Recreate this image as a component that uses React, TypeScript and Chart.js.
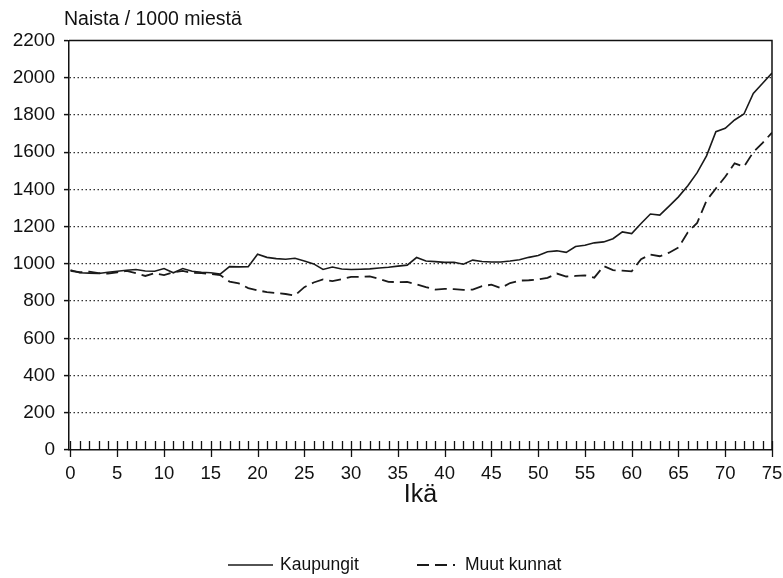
import React, { useEffect, useRef } from "react";
import { Chart, registerables } from "chart.js";

Chart.register(...registerables);

const ages = [
  0, 1, 2, 3, 4, 5, 6, 7, 8, 9, 10, 11, 12, 13, 14, 15, 16, 17, 18, 19,
  20, 21, 22, 23, 24, 25, 26, 27, 28, 29, 30, 31, 32, 33, 34, 35, 36, 37, 38, 39,
  40, 41, 42, 43, 44, 45, 46, 47, 48, 49, 50, 51, 52, 53, 54, 55, 56, 57, 58, 59,
  60, 61, 62, 63, 64, 65, 66, 67, 68, 69, 70, 71, 72, 73, 74, 75,
];

const kaupungit = [
  967, 952, 950, 948, 955, 960, 966, 970, 962, 960, 975, 952, 975, 960, 955, 952, 945, 985, 984, 985,
  1052, 1035, 1028, 1025, 1030, 1015, 1000, 970, 983, 972, 970, 971, 973, 978, 982, 988, 993, 1034, 1015, 1012,
  1008, 1009, 998, 1020, 1013, 1010, 1010, 1015, 1022, 1035, 1045, 1065, 1070, 1062, 1093, 1100, 1113, 1118, 1135, 1172,
  1163, 1217, 1268, 1262, 1310, 1360, 1420, 1490, 1580, 1710, 1728, 1773, 1805, 1916, 1970, 2025,
];

const muutKunnat = [
  962, 955, 958, 950, 948, 955, 962, 950, 935, 950, 940, 955, 962, 952, 950, 945, 940, 905, 895, 870,
  858, 848, 843, 838, 830, 875, 900, 916, 907, 918, 930, 930, 933, 920, 903, 902, 903, 890, 875, 862,
  866, 864, 860, 862, 880, 888, 870, 897, 910, 912, 916, 925, 948, 932, 935, 938, 926, 988, 966, 964,
  960, 1025, 1050, 1041, 1060, 1088, 1170, 1220, 1340, 1405, 1468, 1540, 1522, 1600, 1650, 1705,
];

const xTickValues = [0, 5, 10, 15, 20, 25, 30, 35, 40, 45, 50, 55, 60, 65, 70, 75];
const yTickValues = [0, 200, 400, 600, 800, 1000, 1200, 1400, 1600, 1800, 2000, 2200];

const seriesNames = ["Kaupungit", "Muut kunnat"];
const yTitle = "Naista / 1000 miestä";
const xTitle = "Ikä";

const FONT = '"Liberation Sans", Arial, Helvetica, sans-serif';
const INK = "#111";

const decorPlugin = {
  id: "decor",
  afterDraw(chart: any) {
    const { ctx, chartArea: a, scales } = chart;
    const x = scales.x;
    ctx.save();
    // frame top & right
    ctx.strokeStyle = INK;
    ctx.lineWidth = 1.5;
    ctx.setLineDash([]);
    ctx.beginPath();
    ctx.moveTo(a.left, a.top);
    ctx.lineTo(a.right, a.top);
    ctx.lineTo(a.right, a.bottom);
    ctx.stroke();
    // yearly ticks on x axis
    ctx.lineWidth = 1.3;
    ctx.beginPath();
    for (const age of ages) {
      const px = Math.round(x.getPixelForValue(age)) + 0.5;
      const major = age % 5 === 0;
      ctx.moveTo(px, a.bottom - 9);
      ctx.lineTo(px, a.bottom + (major ? 7 : 0));
    }
    ctx.stroke();
    // top-left title
    ctx.fillStyle = INK;
    ctx.font = `19.5px ${FONT}`;
    ctx.textBaseline = "middle";
    ctx.textAlign = "left";
    ctx.fillText(yTitle, 64, 20);
    // legend
    const ly = chart.height - 13;
    const ds = chart.data.datasets;
    const items = [
      { x0: 228, x1: 273, tx: 280 },
      { x0: 417, x1: 455, tx: 465 },
    ];
    ctx.font = `17.5px ${FONT}`;
    items.forEach((it, i) => {
      ctx.strokeStyle = ds[i].borderColor;
      ctx.lineWidth = ds[i].borderWidth;
      ctx.setLineDash(ds[i].borderDash || []);
      ctx.beginPath();
      ctx.moveTo(it.x0, ly);
      ctx.lineTo(it.x1, ly);
      ctx.stroke();
      ctx.setLineDash([]);
      ctx.fillText(ds[i].label, it.tx, ly);
    });
    ctx.restore();
  },
};

export default function App() {
  const ref = useRef<HTMLCanvasElement>(null);
  useEffect(() => {
    if (!ref.current) return;
    const chart = new Chart(ref.current, {
      type: "line",
      data: {
        datasets: [
          {
            label: seriesNames[0],
            data: ages.map((a, i) => ({ x: a, y: kaupungit[i] })),
            borderColor: "#1a1a1a",
            borderWidth: 1.6,
            pointRadius: 0,
            tension: 0,
            fill: false,
          },
          {
            label: seriesNames[1],
            data: ages.map((a, i) => ({ x: a, y: muutKunnat[i] })),
            borderColor: "#1a1a1a",
            borderWidth: 1.8,
            borderDash: [12, 6],
            pointRadius: 0,
            tension: 0,
            fill: false,
          },
        ],
      },
      options: {
        responsive: false,
        animation: false,
        layout: { padding: { top: 40.5, right: 11, bottom: 58, left: 0 } },
        plugins: {
          legend: { display: false },
          title: { display: false },
          tooltip: { enabled: false },
        },
        scales: {
          x: {
            type: "linear",
            min: -0.16,
            max: 75,
            afterBuildTicks: (s: any) => {
              s.ticks = xTickValues.map((v) => ({ value: v }));
            },
            afterFit: (s: any) => {
              s.height = 70;
              s.paddingLeft = 0;
              s.paddingRight = 0;
            },
            grid: { display: false, drawTicks: false },
            border: { display: true, color: INK, width: 1.5 },
            ticks: {
              color: INK,
              padding: 13,
              maxRotation: 0,
              autoSkip: false,
              font: { family: FONT, size: 18.5 },
              callback: (v: any) => String(v),
            },
            title: {
              display: true,
              text: xTitle,
              color: INK,
              font: { family: FONT, size: 25 },
              padding: { top: 4, bottom: 10 },
            },
          },
          y: {
            type: "linear",
            min: 0,
            max: 2200,
            afterBuildTicks: (s: any) => {
              s.ticks = yTickValues.map((v) => ({ value: v }));
            },
            afterFit: (s: any) => {
              s.width = 69;
              s.paddingTop = 0;
              s.paddingBottom = 0;
            },
            grid: {
              color: (c: any) =>
                c.tick && (c.tick.value === 0 || c.tick.value === 2200) ? "rgba(0,0,0,0)" : "#333",
              lineWidth: 1.2,
              tickLength: 5,
              tickColor: INK,
              tickWidth: 1.5,
            },
            border: { display: true, color: INK, width: 1.5, dash: [1.5, 2.5] },
            ticks: {
              color: INK,
              padding: 9,
              font: { family: FONT, size: 19 },
              callback: (v: any) => String(v),
            },
          },
        },
      },
      plugins: [decorPlugin],
    } as any);
    return () => chart.destroy();
  }, []);
  return (
    <div style={{ position: "fixed", left: 0, top: 0, width: 783, height: 578, background: "#fff" }}>
      <canvas ref={ref} width={783} height={578} style={{ width: 783, height: 578 }} />
    </div>
  );
}
